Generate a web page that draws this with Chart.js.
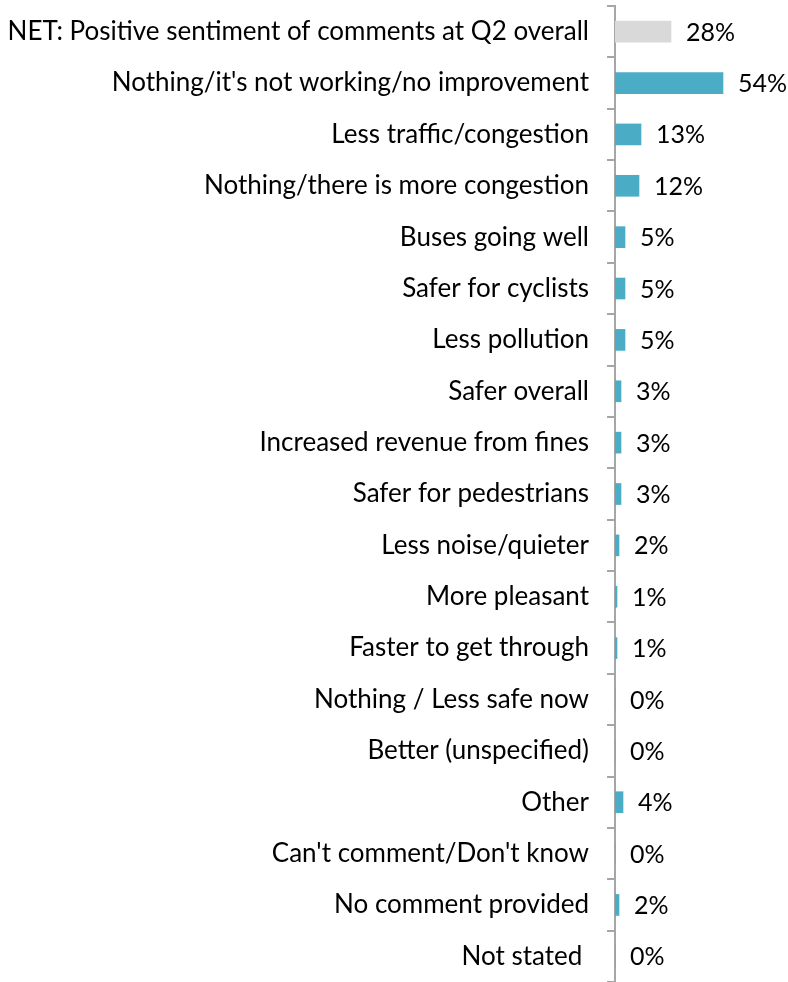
<!DOCTYPE html>
<html>
<head>
<meta charset="utf-8">
<script src="https://cdn.jsdelivr.net/npm/chart.js@4"></script>
<style>
  html, body { margin: 0; padding: 0; background: #ffffff; }
  #wrap { width: 788px; height: 982px; }
</style>
</head>
<body>
<div id="wrap"><canvas id="chart" width="788" height="982"></canvas></div>
<script>
// Survey responses: what has changed since the scheme began
const categories = [
  "NET: Positive sentiment of comments at Q2 overall",
  "Nothing/it's not working/no improvement",
  "Less traffic/congestion",
  "Nothing/there is more congestion",
  "Buses going well",
  "Safer for cyclists",
  "Less pollution",
  "Safer overall",
  "Increased revenue from fines",
  "Safer for pedestrians",
  "Less noise/quieter",
  "More pleasant",
  "Faster to get through",
  "Nothing / Less safe now",
  "Better (unspecified)",
  "Other",
  "Can't comment/Don't know",
  "No comment provided",
  "Not stated "
];
const percentValues = [28, 54, 13, 12, 5, 5, 5, 3, 3, 3, 2, 1, 1, 0, 0, 4, 0, 2, 0];

const NET_COLOR = '#D9D9D9';
const BAR_COLOR = '#4BACC6';
const FONT_FAMILY = 'Lato, "Open Sans", sans-serif';
const LABEL_SIZE = 26;
const VALUE_SIZE = 25;
const AXIS_WIDTH = 615;

// Writes each bar's percentage just past its end
const valueLabels = {
  id: 'valueLabels',
  afterDatasetsDraw(chart) {
    const ctx = chart.ctx;
    const meta = chart.getDatasetMeta(0);
    ctx.save();
    ctx.font = VALUE_SIZE + 'px ' + FONT_FAMILY;
    ctx.fillStyle = '#000000';
    ctx.textAlign = 'left';
    ctx.textBaseline = 'middle';
    meta.data.forEach((bar, i) => {
      ctx.fillText(percentValues[i] + '%', bar.x + 15, bar.y + 1);
    });
    ctx.restore();
  }
};

new Chart(document.getElementById('chart'), {
  type: 'bar',
  data: {
    labels: categories,
    datasets: [{
      data: percentValues,
      backgroundColor: percentValues.map((v, i) => i === 0 ? NET_COLOR : BAR_COLOR),
      borderWidth: 0,
      barThickness: 21
    }]
  },
  options: {
    indexAxis: 'y',
    responsive: false,
    animation: false,
    devicePixelRatio: 1,
    layout: { padding: { top: 6, right: 13, bottom: 0, left: 0 } },
    plugins: {
      legend: { display: false },
      tooltip: { enabled: false }
    },
    scales: {
      x: {
        display: false,
        min: 0,
        max: 80
      },
      y: {
        offset: true,
        // Give the long category names the whole left-hand column
        afterFit(scale) {
          scale.width = AXIS_WIDTH;
          scale.paddingTop = 0;
          scale.paddingBottom = 0;
        },
        border: { display: true, color: '#A6A6A6', width: 2 },
        grid: {
          display: true,
          drawOnChartArea: false,
          drawTicks: true,
          tickLength: 8,
          color: '#A6A6A6',
          lineWidth: 2,
          offset: true
        },
        ticks: {
          color: '#000000',
          padding: 18,
          autoSkip: false,
          font: { family: FONT_FAMILY, size: LABEL_SIZE }
        }
      }
    }
  },
  plugins: [valueLabels]
});
</script>
</body>
</html>
